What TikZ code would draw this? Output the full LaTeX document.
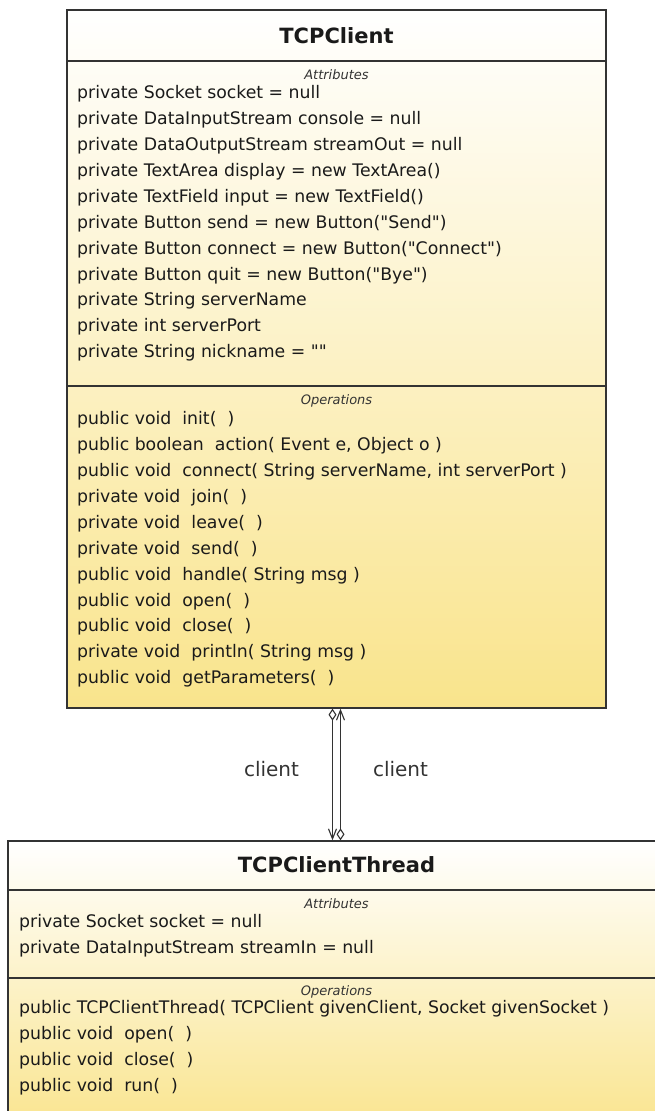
\documentclass[tikz,border=0pt]{standalone}
\usepackage{fontspec}
\setmainfont{DejaVu Sans}[Ligatures=TeXOff]
\usepackage{xcolor}
\usetikzlibrary{matrix,positioning,arrows.meta}

\definecolor{umlyellow}{HTML}{F9E48C}
\definecolor{umlline}{HTML}{333333}
\definecolor{umltext}{HTML}{1A1A1A}
\newcommand{\dq}{\char34}

\begin{document}
\begin{tikzpicture}[x=1pt,y=-1pt,
  classbox/.style={draw=umlline, line width=1.4pt, top color=white, bottom color=umlyellow, inner sep=0pt},
  header/.style={font=\fontsize{21}{25}\selectfont\bfseries, text=umltext, anchor=base},
  section/.style={font=\fontsize{13}{15}\selectfont\itshape, text=umlline, anchor=base},
  member/.style={font=\fontsize{17.3}{20}\selectfont, text=umltext, anchor=base west, inner sep=0pt, text height=17.9pt, text depth=8pt},
  members/.style={matrix of nodes, nodes={member}, anchor=north west, inner sep=0pt, row sep=0pt},
  divider/.style={draw=umlline, line width=2pt},
  assoc/.style={draw=umlline, line width=1.1pt},
  rolelabel/.style={font=\fontsize{20}{24}\selectfont, text=umlline, inner sep=0pt, yshift=5pt}]
\useasboundingbox (0,0) rectangle (655,1111);
\clip (0,0) rectangle (655,1111);

% TCPClient
\node[classbox, minimum width=539pt, minimum height=698pt] (client) at (336.5,359) {};
\draw[divider] ([yshift=-52pt]client.north west) -- ([yshift=-52pt]client.north east);
\draw[divider] ([yshift=-377pt]client.north west) -- ([yshift=-377pt]client.north east);
\node[header] (clientName) at (336.5,43.5) {TCPClient};
\node[section] (clientAttrLbl) at (336.5,79) {Attributes};
\matrix[members] (clientAttrs) at (77,80.6){
private Socket socket = null\\
private DataInputStream console = null\\
private DataOutputStream streamOut = null\\
private TextArea display = new TextArea()\\
private TextField input = new TextField()\\
private Button send = new Button(\dq Send\dq)\\
private Button connect = new Button(\dq Connect\dq)\\
private Button quit = new Button(\dq Bye\dq)\\
private String serverName\\
private int serverPort\\
private String nickname = \dq\dq\\
};
\node[section] (clientOpsLbl) at (336.5,404) {Operations};
\matrix[members] (clientOps) at (77,406.6){
public void~~init(~~)\\
public boolean~~action( Event e, Object o )\\
public void~~connect( String serverName, int serverPort )\\
private void~~join(~~)\\
private void~~leave(~~)\\
private void~~send(~~)\\
public void~~handle( String msg )\\
public void~~open(~~)\\
public void~~close(~~)\\
private void~~println( String msg )\\
public void~~getParameters(~~)\\
};

% TCPClientThread
\node[classbox, minimum width=657pt, minimum height=294pt] (thread) at (336.5,988) {};
\draw[divider] ([yshift=-50pt]thread.north west) -- ([yshift=-50pt]thread.north east);
\draw[divider] ([yshift=-138pt]thread.north west) -- ([yshift=-138pt]thread.north east);
\node[header] (threadName) at (336.5,872) {TCPClientThread};
\node[section] (threadAttrLbl) at (336.5,908) {Attributes};
\matrix[members] (threadAttrs) at (19,909.6){
private Socket socket = null\\
private DataInputStream streamIn = null\\
};
\node[section] (threadOpsLbl) at (336.5,995) {Operations};
\matrix[members] (threadOps) at (19,995.6){
public TCPClientThread( TCPClient givenClient, Socket givenSocket )\\
public void~~open(~~)\\
public void~~close(~~)\\
public void~~run(~~)\\
};

\draw[assoc, {Diamond[open,length=12pt,width=8pt]}-{Straight Barb[length=10pt,width=8pt]}]
  ([xshift=-4pt]client.south) -- ([xshift=-4pt]thread.north)
  node[midway, left=33pt, rolelabel] (roleLeft) {client};
\draw[assoc, {Straight Barb[length=10pt,width=8pt]}-{Diamond[open,length=12pt,width=8pt]}]
  ([xshift=4pt]client.south) -- ([xshift=4pt]thread.north)
  node[midway, right=32pt, rolelabel] (roleRight) {client};
\end{tikzpicture}
\end{document}
